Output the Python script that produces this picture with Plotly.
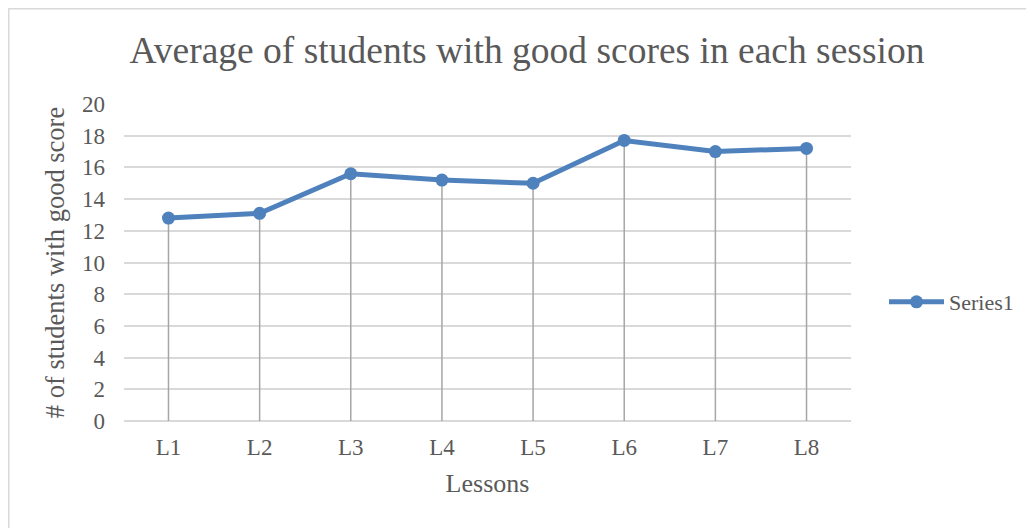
import plotly.graph_objects as go

lessons = ["L1", "L2", "L3", "L4", "L5", "L6", "L7", "L8"]
series1 = [12.8, 13.1, 15.6, 15.2, 15.0, 17.7, 17.0, 17.2]
y_ticks = [0, 2, 4, 6, 8, 10, 12, 14, 16, 18, 20]

FONT = "Liberation Serif"
TXT = "#595959"
BLUE = "#4F81BD"

# drop lines built from data
drop_x, drop_y = [], []
for c, v in zip(lessons, series1):
    drop_x += [c, c, None]
    drop_y += [0, v, None]

fig = go.Figure()
fig.add_trace(go.Scatter(x=drop_x, y=drop_y, mode="lines",
                         line=dict(color="#A6A6A6", width=1.5),
                         showlegend=False, hoverinfo="skip"))
fig.add_trace(go.Scatter(x=lessons, y=series1, mode="lines+markers", name="Series1",
                         line=dict(color=BLUE, width=5),
                         marker=dict(color=BLUE, size=13)))

W, H = 1026, 520
L, T = 116, 96
PW, PH = 727, 317

fig.update_layout(
    width=W, height=H,
    margin=dict(l=L, r=W - L - PW, t=T, b=H - T - PH),
    paper_bgcolor="white", plot_bgcolor="white",
    font=dict(family=FONT, color=TXT, size=22),
    title=dict(text="Average of students with good scores in each session",
               x=519 / W, xref="container", xanchor="center",
               y=1 - 42 / H, yref="container", yanchor="middle",
               font=dict(family=FONT, size=37.5, color=TXT)),
    xaxis=dict(title=dict(text="Lessons", font=dict(size=26, color=TXT), standoff=14),
               showgrid=False, showline=False, zeroline=False,
               ticklabelstandoff=10,
               tickfont=dict(size=23, color=TXT)),
    yaxis=dict(title=dict(text="# of students with good score", font=dict(size=26.5, color=TXT), standoff=9),
               range=[0, 20], tickvals=y_ticks,
               showgrid=True, gridcolor="#D9D9D9", gridwidth=1.5,
               zeroline=True, zerolinecolor="#D9D9D9", zerolinewidth=1.5,
               showline=False, ticklabelstandoff=18,
               tickfont=dict(size=23, color=TXT)),
    legend=dict(x=(876 - L) / PW, y=(T + PH - 294) / PH, xanchor="left", yanchor="middle",
                itemwidth=55, font=dict(size=22, color=TXT), bgcolor="rgba(0,0,0,0)"),
    shapes=[dict(type="rect", xref="paper", yref="paper",
                 x0=(0.75 - L) / PW, x1=(W + 20 - L) / PW,
                 y0=-(H + 20 - T - PH) / PH, y1=1 + (T - 0.75) / PH,
                 line=dict(color="#D9D9D9", width=1.5), fillcolor="rgba(0,0,0,0)",
                 layer="below")],
)

fig.write_html("out.html")
